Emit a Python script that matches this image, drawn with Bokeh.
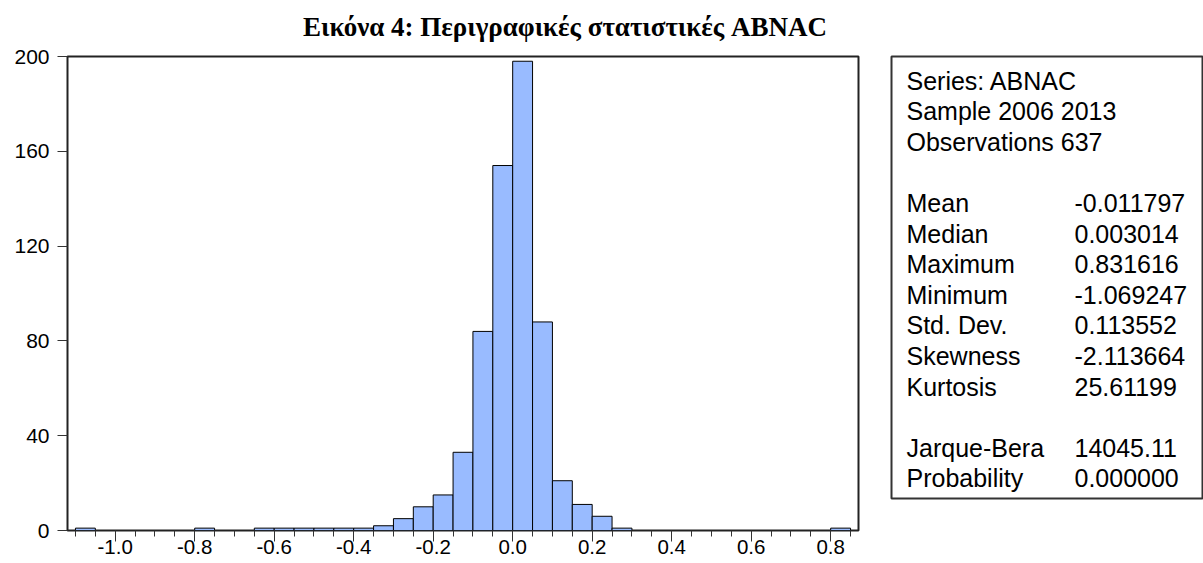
from bokeh.plotting import figure
from bokeh.models import (Range1d, LinearAxis, SingleIntervalTicker, FixedTicker,
                          ColumnDataSource, PrintfTickFormatter)
from bokeh.layouts import column, row
from bokeh.embed import file_html
from bokeh.resources import INLINE
from bokeh.core.properties import value

# ---------------- data ----------------
title_text = "Εικόνα 4: Περιγραφικές στατιστικές ABNAC"

bin_width = 0.05
bin_left = [-1.10, -0.80, -0.65, -0.60, -0.55, -0.50, -0.45, -0.40, -0.35, -0.30,
            -0.25, -0.20, -0.15, -0.10, -0.05, 0.00, 0.05, 0.10, 0.15, 0.20, 0.25, 0.80]
counts = [1, 1, 1, 1, 1, 1, 1, 1, 2, 5,
          10, 15, 33, 84, 154, 198, 88, 21, 11, 6, 1, 1]

y_ticks = [0, 40, 80, 120, 160, 200]

header_lines = ["Series: ABNAC", "Sample 2006 2013", "Observations 637"]
stat_names = ["Mean", "Median", "Maximum", "Minimum", "Std. Dev.", "Skewness", "Kurtosis"]
stat_values = ["-0.011797", "0.003014", "0.831616", "-1.069247", "0.113552", "-2.113664", "25.61199"]
test_names = ["Jarque-Bera", "Probability"]
test_values = ["14045.11", "0.000000"]

SANS = value("Liberation Sans")
SERIF = value("Liberation Serif")

# ---------------- title ----------------
t = figure(width=1203, height=44, x_range=Range1d(0, 1203), y_range=Range1d(44, 0),
           min_border=0, toolbar_location=None, output_backend="svg",
           x_axis_location=None, y_axis_location=None)
t.outline_line_color = None
t.xgrid.grid_line_color = None
t.ygrid.grid_line_color = None
t.text(x=[564.5], y=[26], text=[title_text], text_font=SERIF, text_font_style="bold",
       text_font_size="27px", text_align="center", text_baseline="middle",
       text_color="black")

# ---------------- histogram ----------------
p = figure(width=870, height=519, x_range=Range1d(-1.12, 0.87), y_range=Range1d(0, 200),
           min_border_left=67, min_border_right=12, min_border_top=12, min_border_bottom=33,
           x_axis_location=None, toolbar_location=None, output_backend="svg")
p.xgrid.grid_line_color = None
p.ygrid.grid_line_color = None
p.outline_line_color = "#222222"
p.outline_line_width = 2

src = ColumnDataSource(dict(left=bin_left,
                            right=[b + bin_width for b in bin_left],
                            top=counts,
                            bottom=[0] * len(counts)))
p.quad(left="left", right="right", top="top", bottom="bottom", source=src,
       fill_color="#99BBFF", line_color="black", line_width=1)

ya = p.yaxis[0]
ya.ticker = FixedTicker(ticks=y_ticks)
ya.axis_line_color = None
ya.major_tick_out = 10
ya.major_tick_in = 0
ya.minor_tick_out = 0
ya.minor_tick_in = 0
ya.major_tick_line_color = "#333333"
ya.major_label_standoff = 8
ya.major_label_text_font = "Liberation Sans"
ya.major_label_text_font_size = "21px"
ya.major_label_text_color = "black"

xa = LinearAxis(ticker=SingleIntervalTicker(interval=0.2, num_minor_ticks=4),
                formatter=PrintfTickFormatter(format="%.1f"))
xa.axis_line_color = None
xa.major_tick_out = 11
xa.major_tick_in = 0
xa.minor_tick_out = 6
xa.minor_tick_in = 0
xa.major_tick_line_color = "#333333"
xa.minor_tick_line_color = "#333333"
xa.major_label_standoff = -2
xa.major_label_text_font = "Liberation Sans"
xa.major_label_text_font_size = "20.5px"
xa.major_label_text_color = "black"
p.add_layout(xa, "below")

# ---------------- statistics box ----------------
s = figure(width=333, height=519, x_range=Range1d(0, 312), y_range=Range1d(442, 0),
           min_border_left=21, min_border_right=0, min_border_top=12, min_border_bottom=65,
           x_axis_location=None, y_axis_location=None,
           toolbar_location=None, output_backend="svg")
s.xgrid.grid_line_color = None
s.ygrid.grid_line_color = None
s.outline_line_color = "#333333"
s.outline_line_width = 2

first_mid = 24
line_step = 30.6
name_x = 15
value_x = 183

lines_left, lines_right, idx_left, idx_right = [], [], [], []
for i, h in enumerate(header_lines):
    lines_left.append(h); idx_left.append(i)
for j, (n, v) in enumerate(zip(stat_names, stat_values)):
    k = len(header_lines) + 1 + j
    lines_left.append(n); idx_left.append(k)
    lines_right.append(v); idx_right.append(k)
for j, (n, v) in enumerate(zip(test_names, test_values)):
    k = len(header_lines) + 1 + len(stat_names) + 1 + j
    lines_left.append(n); idx_left.append(k)
    lines_right.append(v); idx_right.append(k)

s.text(x=[name_x] * len(lines_left), y=[first_mid + line_step * k for k in idx_left],
       text=lines_left, text_font=SANS, text_font_size="25px", text_align="left",
       text_baseline="middle", text_color="black")
s.text(x=[value_x] * len(lines_right), y=[first_mid + line_step * k for k in idx_right],
       text=lines_right, text_font=SANS, text_font_size="25px", text_align="left",
       text_baseline="middle", text_color="black")

layout = column(t, row(column(p), column(s)))
open("out.html", "w").write(file_html(layout, INLINE))
